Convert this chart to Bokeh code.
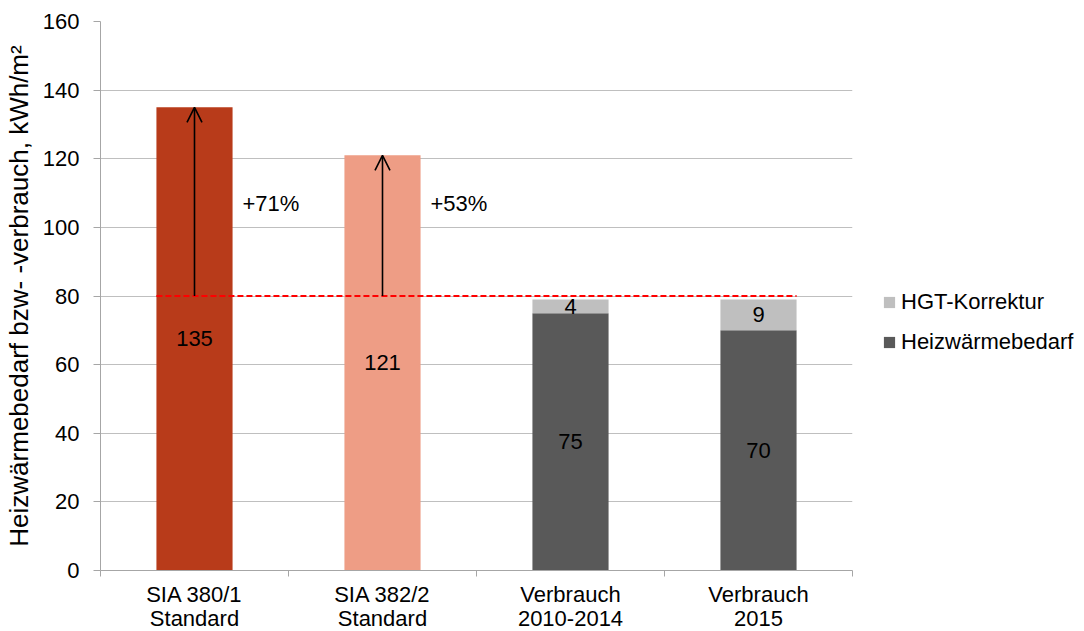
from bokeh.plotting import figure
from bokeh.models import (Range1d, FixedTicker, Arrow, OpenHead, Legend, LegendItem,
                          ColumnDataSource)
from bokeh.embed import file_html
from bokeh.resources import INLINE
from bokeh.core.properties import value

# ---------------- data ----------------
categories = ["SIA 380/1\nStandard", "SIA 382/2\nStandard", "Verbrauch\n2010-2014", "Verbrauch\n2015"]
standard_values = [135, 121]          # SIA 380/1, SIA 382/2
heiz_values = [75, 70]                # Heizwärmebedarf (Verbrauch)
hgt_values = [4, 9]                   # HGT-Korrektur
baseline = 80
pct_labels = ["+71%", "+53%"]
pct_label_y = 107
y_ticks = [0, 20, 40, 60, 80, 100, 120, 140, 160]

# ---------------- style ----------------
FONT = "Liberation Sans"
C_STD = ["#B83B1A", "#EE9D85"]
C_HEIZ = "#595959"
C_HGT = "#BFBFBF"
BAR_W = 0.405
FS = "22px"

n = len(categories)
xc = [i + 0.5 for i in range(n)]

p = figure(frame_width=752, frame_height=549, output_backend="svg", toolbar_location=None,
           x_range=Range1d(0, n), y_range=Range1d(0, 160),
           min_border_left=100, min_border_right=0, min_border_top=21, min_border_bottom=30)
p.outline_line_color = None
p.background_fill_color = "white"

# bars
std_src = ColumnDataSource(dict(x=xc[:2], top=standard_values, color=C_STD,
                                lab=[str(v) for v in standard_values],
                                ly=[v / 2 for v in standard_values]))
p.vbar(x="x", top="top", width=BAR_W, fill_color="color", line_color=None, source=std_src)

heiz_top = heiz_values
hgt_top = [a + b for a, b in zip(heiz_values, hgt_values)]
r_heiz = p.vbar(x=xc[2:], bottom=0, top=heiz_top, width=BAR_W, fill_color=C_HEIZ, line_color=None)
r_hgt = p.vbar(x=xc[2:], bottom=heiz_top, top=hgt_top, width=BAR_W, fill_color=C_HGT, line_color=None)

# dashed baseline
p.line(x=[xc[0] - BAR_W / 2, xc[-1] + BAR_W / 2], y=[baseline, baseline],
       line_color="#FF0000", line_dash="6 3", line_width=2)

# arrows
for x, top in zip(xc[:2], standard_values):
    p.add_layout(Arrow(x_start=x, y_start=baseline, x_end=x, y_end=top,
                       line_color="black", line_width=1.6,
                       end=OpenHead(size=15, line_color="black", line_width=1.6)))

# value labels
p.text(x="x", y="ly", text="lab", source=std_src, text_align="center", text_baseline="middle",
       text_font=value(FONT), text_font_size=FS, text_color="black")
p.text(x=xc[2:], y=[v / 2 for v in heiz_values], text=[str(v) for v in heiz_values],
       text_align="center", text_baseline="middle",
       text_font=value(FONT), text_font_size=FS, text_color="black")
p.text(x=xc[2:], y=[a + b / 2 for a, b in zip(heiz_values, hgt_values)],
       text=[str(v) for v in hgt_values],
       text_align="center", text_baseline="middle",
       text_font=value(FONT), text_font_size=FS, text_color="black")
p.text(x=[x + 0.255 for x in xc[:2]], y=[pct_label_y] * 2, text=pct_labels,
       text_align="left", text_baseline="middle",
       text_font=value(FONT), text_font_size=FS, text_color="black")

# axes
p.xaxis.ticker = FixedTicker(ticks=xc, minor_ticks=list(range(n + 1)))
p.xaxis.major_label_overrides = {x: c for x, c in zip(xc, categories)}
p.xaxis.major_tick_in = 0
p.xaxis.major_tick_out = 0
p.xaxis.minor_tick_in = 0
p.xaxis.minor_tick_out = 6
p.xaxis.minor_tick_line_color = "#A6A6A6"
p.xaxis.axis_line_color = "#A6A6A6"
p.xaxis.major_label_text_font = FONT
p.xaxis.major_label_text_font_size = FS
p.xaxis.major_label_text_color = "black"
p.xaxis.major_label_text_line_height = 0.98
p.xaxis.major_label_standoff = 5

p.yaxis.ticker = FixedTicker(ticks=y_ticks)
p.yaxis.minor_tick_line_color = None
p.yaxis.major_tick_in = 0
p.yaxis.major_tick_out = 7
p.yaxis.major_tick_line_color = "#A6A6A6"
p.yaxis.axis_line_color = "#A6A6A6"
p.yaxis.major_label_text_font = FONT
p.yaxis.major_label_text_font_size = FS
p.yaxis.major_label_text_color = "black"
p.yaxis.major_label_standoff = 14
p.yaxis.axis_label = "Heizwärmebedarf bzw- -verbrauch, kWh/m²"
p.yaxis.axis_label_text_font = FONT
p.yaxis.axis_label_text_font_size = "26px"
p.yaxis.axis_label_text_font_style = "normal"
p.yaxis.axis_label_text_color = "black"
p.yaxis.axis_label_standoff = 6

p.xgrid.grid_line_color = None
p.ygrid.ticker = FixedTicker(ticks=y_ticks)
p.ygrid.grid_line_color = "#BFBFBF"
p.ygrid.grid_line_width = 1

# legend in the right side panel
legend = Legend(items=[LegendItem(label="HGT-Korrektur", renderers=[r_hgt]),
                       LegendItem(label="Heizwärmebedarf", renderers=[r_heiz])],
                location=(30, 215), border_line_color=None, background_fill_alpha=0,
                label_text_font=FONT, label_text_font_size=FS, label_text_color="black",
                glyph_width=14, glyph_height=14, label_standoff=5, spacing=14,
                label_height=24, padding=6, margin=0)
p.add_layout(legend, "right")

open("out.html", "w").write(file_html(p, INLINE))
